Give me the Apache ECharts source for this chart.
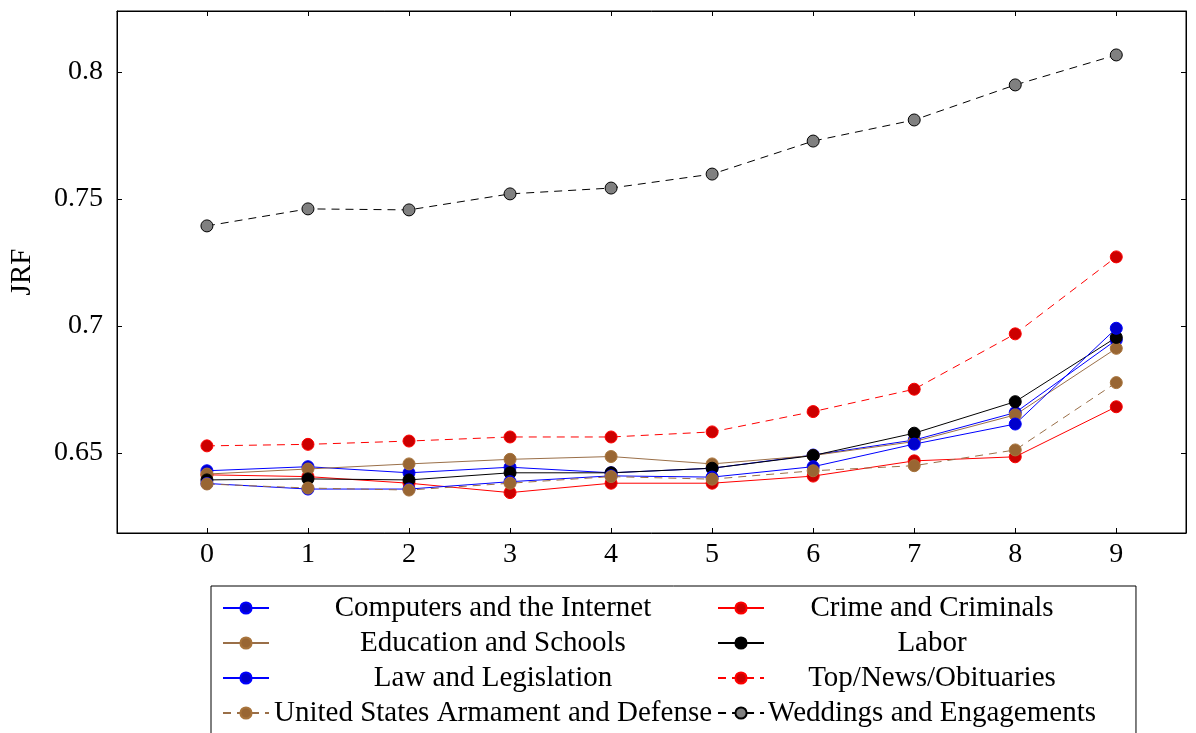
<!DOCTYPE html>
<html>
<head>
<meta charset="utf-8">
<script src="https://cdn.jsdelivr.net/npm/echarts@6/dist/echarts.min.js"></script>
<style>html,body{margin:0;padding:0;background:#fff}#c{width:1196px;height:733px}</style>
</head>
<body>
<div id="c"></div>
<script>
const xs = [0, 1, 2, 3, 4, 5, 6, 7, 8, 9];
const yTicks = [0.65, 0.7, 0.75, 0.8];
const names = ["Computers and the Internet", "Crime and Criminals", "Education and Schools", "Labor",
  "Law and Legislation", "Top/News/Obituaries", "United States Armament and Defense", "Weddings and Engagements"];
const computers = [0.6430, 0.6446, 0.6422, 0.6444, 0.6422, 0.6440, 0.6492, 0.6551, 0.6659, 0.6945];
const crime     = [0.6414, 0.6407, 0.6381, 0.6344, 0.6381, 0.6381, 0.6409, 0.6469, 0.6485, 0.6682];
const education = [0.6417, 0.6437, 0.6457, 0.6475, 0.6486, 0.6457, 0.6490, 0.6545, 0.6650, 0.6912];
const labor     = [0.6394, 0.6398, 0.6394, 0.6422, 0.6422, 0.6440, 0.6490, 0.6578, 0.6702, 0.6955];
const law       = [0.6380, 0.6358, 0.6358, 0.6387, 0.6410, 0.6405, 0.6446, 0.6535, 0.6614, 0.6991];
const topNews   = [0.6528, 0.6534, 0.6547, 0.6563, 0.6563, 0.6583, 0.6663, 0.6751, 0.6969, 0.7272];
const usArm     = [0.6378, 0.6362, 0.6354, 0.6381, 0.6407, 0.6397, 0.6430, 0.6450, 0.6512, 0.6777];
const weddings  = [0.7394, 0.7461, 0.7457, 0.7520, 0.7543, 0.7598, 0.7728, 0.7811, 0.7949, 0.8067];

const values = [computers, crime, education, labor, law, topNews, usArm, weddings];
const styles = [
  {line: '#0000ff', fill: '#0000cc', stroke: '#0000ff', dash: 'solid'},
  {line: '#ff0000', fill: '#cc0000', stroke: '#ff0000', dash: 'solid'},
  {line: '#9a6f48', fill: '#996633', stroke: '#a8743c', dash: 'solid'},
  {line: '#000000', fill: '#000000', stroke: '#000000', dash: 'solid'},
  {line: '#0000ff', fill: '#0000cc', stroke: '#0000ff', dash: 'solid'},
  {line: '#ff0000', fill: '#cc0000', stroke: '#ff0000', dash: [8, 6]},
  {line: '#9a6f48', fill: '#996633', stroke: '#a8743c', dash: [8, 6]},
  {line: '#000000', fill: '#808080', stroke: '#000000', dash: [8, 6]}
];
const FONT = 'Liberation Serif';

const series = names.map((n, i) => ({
  name: n,
  type: 'line',
  xAxisIndex: 0,
  yAxisIndex: 0,
  data: xs.map((x, j) => [x, values[i][j]]),
  symbol: 'circle',
  symbolSize: 12,
  lineStyle: {color: styles[i].line, width: 1, type: styles[i].dash},
  itemStyle: {color: styles[i].fill, borderColor: styles[i].stroke, borderWidth: 1},
  emphasis: {disabled: true},
  animation: false
}));

const axisCommon = {
  type: 'value',
  axisLine: {show: true, onZero: false, lineStyle: {color: '#000', width: 1}},
  splitLine: {show: false},
  axisTick: {show: true, inside: true, length: 5, lineStyle: {color: '#000'}},
  axisLabel: {color: '#000', fontFamily: FONT, fontSize: 28}
};

const chart = echarts.init(document.getElementById('c'));
chart.setOption({
  animation: false,
  backgroundColor: '#fff',
  grid: {left: 117, right: 10, top: 11, bottom: 200, containLabel: false, outerBoundsMode: 'none',
    show: true, borderColor: '#000', borderWidth: 1},
  xAxis: [
    Object.assign({}, axisCommon, {
      position: 'bottom', min: -0.89, max: 9.69,
      axisTick: Object.assign({}, axisCommon.axisTick, {customValues: xs}),
      axisLabel: Object.assign({}, axisCommon.axisLabel, {customValues: xs, margin: 8})
    }),
    Object.assign({}, axisCommon, {
      position: 'top', min: -0.89, max: 9.69,
      axisTick: Object.assign({}, axisCommon.axisTick, {customValues: xs}),
      axisLabel: {show: false}
    })
  ],
  yAxis: [
    Object.assign({}, axisCommon, {
      position: 'left', min: 0.6185, max: 0.824,
      name: 'JRF', nameLocation: 'middle', nameGap: 80, nameRotate: 90,
      nameTextStyle: {color: '#000', fontFamily: FONT, fontSize: 29},
      axisTick: Object.assign({}, axisCommon.axisTick, {customValues: yTicks}),
      axisLabel: Object.assign({}, axisCommon.axisLabel, {customValues: yTicks, margin: 14,
        formatter: v => String(Math.round(v * 100) / 100)})
    }),
    Object.assign({}, axisCommon, {
      position: 'right', min: 0.6185, max: 0.824,
      axisTick: Object.assign({}, axisCommon.axisTick, {customValues: yTicks}),
      axisLabel: {show: false}
    })
  ],
  legend: {
    data: names,
    orient: 'horizontal',
    left: 211, top: 586, width: 940,
    padding: [7, 40, 10, 11],
    itemGap: 5,
    itemWidth: 46, itemHeight: 14,
    backgroundColor: '#fff',
    borderColor: '#000', borderWidth: 1, borderRadius: 0,
    selectedMode: false,
    formatter: function (n) {
      const idx = names.indexOf(n);
      return (idx % 2 === 0 ? '{a|' : '{b|') + n + '}';
    },
    textStyle: {
      color: '#000', fontFamily: FONT, fontSize: 29,
      rich: {
        a: {width: 438, align: 'center', fontFamily: FONT, fontSize: 29, lineHeight: 30, height: 30, color: '#000'},
        b: {width: 326, align: 'center', fontFamily: FONT, fontSize: 29, lineHeight: 30, height: 30, color: '#000'}
      }
    }
  },
  series: series
});
</script>
</body>
</html>
